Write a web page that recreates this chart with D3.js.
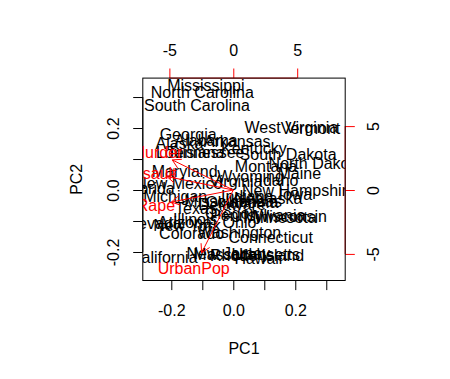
<!DOCTYPE html>
<html>
<head>
<meta charset="utf-8">
<script src="https://cdn.jsdelivr.net/npm/d3@7"></script>
<style>
  body { margin: 0; background: #fff; }
  svg text { font-family: "Liberation Sans", Arial, Helvetica, sans-serif; font-size: 16px; }
</style>
</head>
<body>
<svg id="chart" width="450" height="379"></svg>
<script>
// biplot of the scaled PCA: state scores (PC1, PC2, already divided by lambda)
const states = ["Alabama","Alaska","Arizona","Arkansas","California","Colorado","Connecticut","Delaware",
  "Florida","Georgia","Hawaii","Idaho","Illinois","Indiana","Iowa","Kansas","Kentucky","Louisiana",
  "Maine","Maryland","Massachusetts","Michigan","Minnesota","Mississippi","Missouri","Montana",
  "Nebraska","Nevada","New Hampshire","New Jersey","New Mexico","New York","North Carolina",
  "North Dakota","Ohio","Oklahoma","Oregon","Pennsylvania","Rhode Island","South Carolina",
  "South Dakota","Tennessee","Texas","Utah","Vermont","Virginia","Washington","West Virginia",
  "Wisconsin","Wyoming"];
const pc1 = [-0.0876,-0.1734,-0.1567,0.0126,-0.2244,-0.1346,0.1208,-0.0042,
  -0.2678,-0.1457,0.0811,0.1458,-0.1226,0.0449,0.2003,0.0708,0.0667,-0.1391,
  0.2131,-0.1568,0.0432,-0.1874,0.1505,-0.0886,-0.0619,0.1054,
  0.1125,-0.2555,0.2119,-0.0161,-0.1760,-0.1496,-0.0999,
  0.2660,0.0201,0.0277,-0.0053,0.0790,0.0768,-0.1174,
  0.1767,-0.0889,-0.1205,0.0489,0.2490,0.0086,0.0193,0.1874,
  0.1848,0.0560];
const pc2 = [0.1595,0.1510,-0.1050,0.1576,-0.2171,-0.1390,-0.1532,-0.0458,
  0.0055,0.1800,-0.2210,0.0297,-0.0960,-0.0213,-0.0146,-0.0380,0.1349,0.1226,
  0.0530,0.0602,-0.2075,-0.0219,-0.0890,0.3369,-0.0371,0.0755,
  -0.0273,-0.1091,-0.0025,-0.2040,0.0201,-0.1158,0.3135,
  0.0844,-0.1045,-0.0405,-0.0762,-0.0804,-0.2100,0.2721,
  0.1159,0.1211,-0.0580,-0.2071,0.1973,0.0281,-0.1365,0.2010,
  -0.0860,0.0452];

// variable loadings (times lambda), top/right axes
const variables = ["Murder","Assault","UrbanPop","Rape"];
const load1 = [-5.968,-6.494,-3.098,-6.052];
const load2 = [2.942,1.322,-6.140,-1.177];

const mainTicks = [-0.2,-0.1,0.0,0.1,0.2,0.3];
const mainTickLabels = ["-0.2","","0.0","","0.2",""];
const varTicks = [-5,0,5];
const varTickLabels = ["-5","0","5"];

const svg = d3.select("#chart");
const box = { left: 142.8, right: 345.2, top: 78.1, bottom: 280.5 };

// limits as R's biplot sets them: a common symmetric-ish range, padded 4%
const urange = v => [-Math.abs(d3.min(v)), Math.abs(d3.max(v))];
const rx1 = urange(pc1), rx2 = urange(pc2);
const lim = [Math.min(rx1[0], rx2[0]), Math.max(rx1[1], rx2[1])];
const pad = (lim[1] - lim[0]) * 0.04;
const dom = [lim[0] - pad, lim[1] + pad];
const ry1 = urange(load1), ry2 = urange(load2);
const ratio = Math.max(ry1[0] / lim[0], ry1[1] / lim[1], ry2[0] / lim[0], ry2[1] / lim[1]);

const x = d3.scaleLinear().domain(dom).range([box.left, box.right]);
const y = d3.scaleLinear().domain(dom).range([box.bottom, box.top]);
const x2 = d3.scaleLinear().domain(dom.map(d => d * ratio)).range([box.left, box.right]);
const y2 = d3.scaleLinear().domain(dom.map(d => d * ratio)).range([box.bottom, box.top]);

svg.append("clipPath").attr("id", "plotclip")
  .append("rect")
  .attr("x", box.left).attr("y", box.top)
  .attr("width", box.right - box.left).attr("height", box.bottom - box.top);

const tickLen = 9.6;

// bottom axis
const gx = svg.append("g").attr("transform", `translate(0,${box.bottom})`)
  .call(d3.axisBottom(x).tickValues(mainTicks).tickSize(tickLen)
    .tickFormat((d, i) => mainTickLabels[i]));
gx.select(".domain").attr("d", `M${x(mainTicks[0])},0H${x(mainTicks[mainTicks.length - 1])}`);
gx.selectAll("text").attr("y", 30.2).attr("dy", "0.35em");

// left axis, labels parallel to the axis
const gy = svg.append("g").attr("transform", `translate(${box.left},0)`)
  .call(d3.axisLeft(y).tickValues(mainTicks).tickSize(tickLen)
    .tickFormat((d, i) => mainTickLabels[i]));
gy.select(".domain").attr("d", `M0,${y(mainTicks[0])}V${y(mainTicks[mainTicks.length - 1])}`);
gy.selectAll("text").attr("x", null).attr("dy", "0.35em")
  .attr("text-anchor", "middle")
  .attr("transform", "translate(-29.8,0) rotate(-90)");

svg.selectAll(".tick line, .domain").attr("stroke", "#000").attr("stroke-width", 1);
svg.selectAll(".tick text").attr("fill", "#000").style("font-size", "16px")
  .style("font-family", '"Liberation Sans", Arial, sans-serif');

// state names
svg.append("g").attr("clip-path", "url(#plotclip)")
  .selectAll("text").data(states).join("text")
  .attr("x", (d, i) => x(pc1[i]))
  .attr("y", (d, i) => y(pc2[i]))
  .attr("dy", "0.35em")
  .attr("text-anchor", "middle")
  .attr("fill", "#000")
  .text(d => d);

// top axis (red ticks, black labels)
const gt = svg.append("g").attr("transform", `translate(0,${box.top})`)
  .call(d3.axisTop(x2).tickValues(varTicks).tickSize(tickLen)
    .tickFormat((d, i) => varTickLabels[i]));
gt.select(".domain").attr("d", `M${x2(varTicks[0])},0H${x2(varTicks[varTicks.length - 1])}`);
gt.selectAll("text").attr("y", -27.4).attr("dy", "0.35em");

// right axis
const gr = svg.append("g").attr("transform", `translate(${box.right},0)`)
  .call(d3.axisRight(y2).tickValues(varTicks).tickSize(tickLen)
    .tickFormat((d, i) => varTickLabels[i]));
gr.select(".domain").attr("d", `M0,${y2(varTicks[0])}V${y2(varTicks[varTicks.length - 1])}`);
gr.selectAll("text").attr("x", null).attr("dy", "0.35em")
  .attr("text-anchor", "middle")
  .attr("transform", "translate(28,0) rotate(-90)");

[gt, gr].forEach(g => {
  g.selectAll(".tick line, .domain").attr("stroke", "#ff0000").attr("stroke-width", 1);
  g.selectAll("text").attr("fill", "#000").style("font-size", "16px")
    .style("font-family", '"Liberation Sans", Arial, sans-serif');
});

// box
svg.append("rect")
  .attr("x", box.left).attr("y", box.top)
  .attr("width", box.right - box.left).attr("height", box.bottom - box.top)
  .attr("fill", "none").attr("stroke", "#000").attr("stroke-width", 1);

// variable names and arrows
const vg = svg.append("g").attr("clip-path", "url(#plotclip)");
vg.selectAll("text").data(variables).join("text")
  .attr("x", (d, i) => x2(load1[i]))
  .attr("y", (d, i) => y2(load2[i]))
  .attr("dy", "0.35em")
  .attr("text-anchor", "middle")
  .attr("fill", "#ff0000")
  .text(d => d);

const headLen = 9.6, headAng = Math.PI / 6;
vg.selectAll("path").data(variables).join("path")
  .attr("fill", "none").attr("stroke", "#ff0000").attr("stroke-width", 1)
  .attr("d", (d, i) => {
    const x0 = x2(0), y0 = y2(0);
    const x1 = x2(load1[i] * 0.8), y1 = y2(load2[i] * 0.8);
    const a = Math.atan2(y1 - y0, x1 - x0);
    const p = d3.path();
    p.moveTo(x0, y0); p.lineTo(x1, y1);
    p.moveTo(x1 - headLen * Math.cos(a - headAng), y1 - headLen * Math.sin(a - headAng));
    p.lineTo(x1, y1);
    p.lineTo(x1 - headLen * Math.cos(a + headAng), y1 - headLen * Math.sin(a + headAng));
    return p.toString();
  });

// axis titles
svg.append("text").attr("x", (box.left + box.right) / 2).attr("y", 348)
  .attr("dy", "0.35em").attr("text-anchor", "middle").text("PC1");
svg.append("text").attr("transform", `translate(76.7,${(box.top + box.bottom) / 2}) rotate(-90)`)
  .attr("dy", "0.35em").attr("text-anchor", "middle").text("PC2");
</script>
</body>
</html>
